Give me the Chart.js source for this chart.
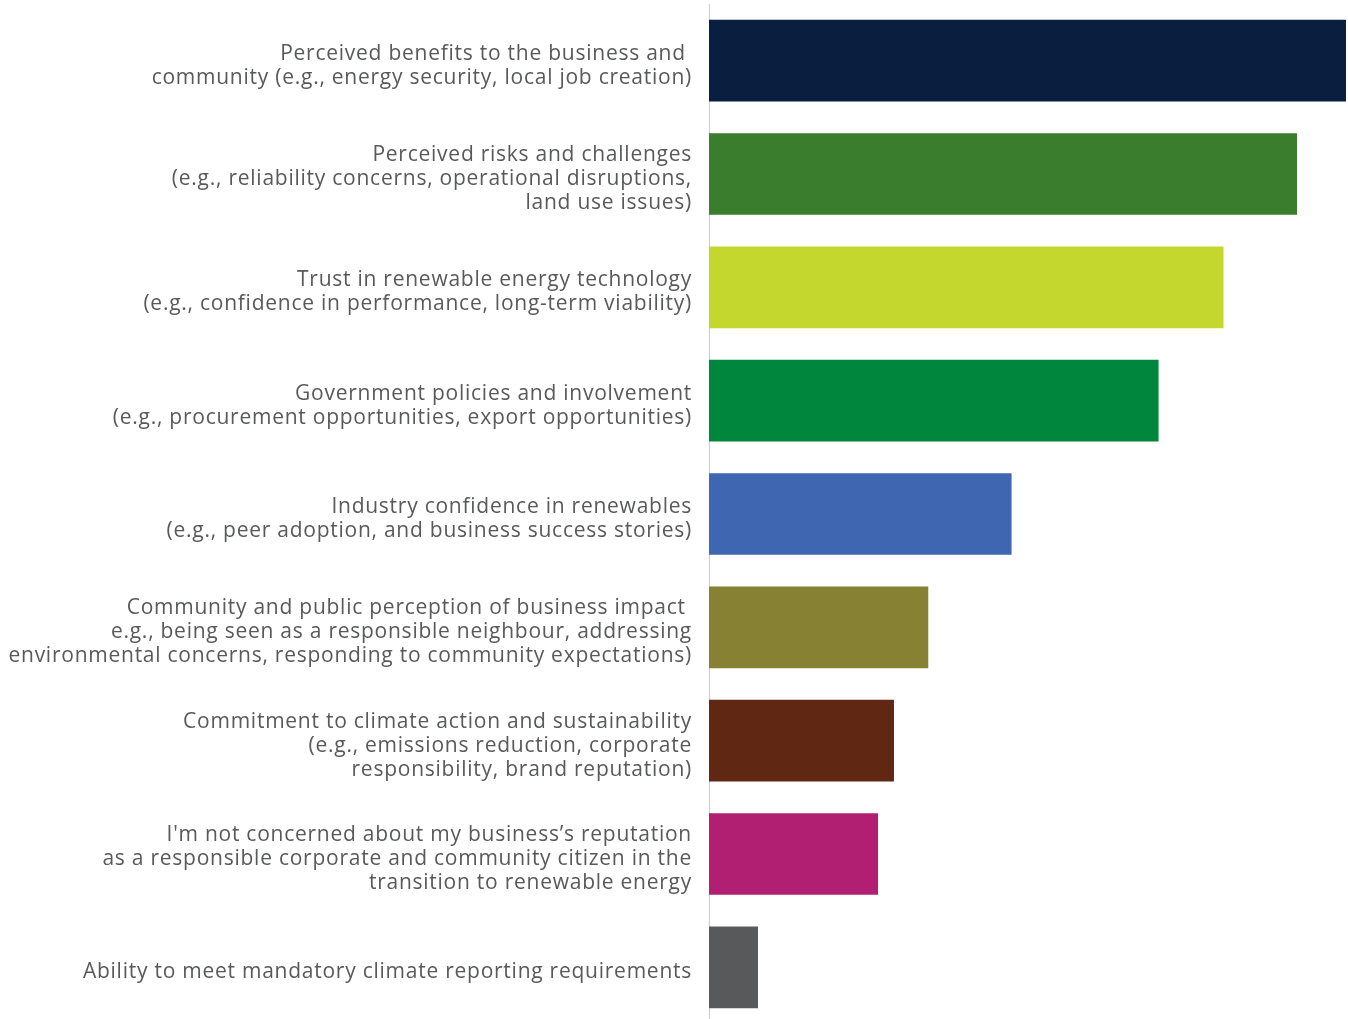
<!DOCTYPE html>
<html>
<head>
<meta charset="utf-8">
<title>Drivers of renewable energy decisions</title>
<script src="https://cdn.jsdelivr.net/npm/chart.js@4/dist/chart.umd.min.js"></script>
<style>
    html, body { margin: 0; padding: 0; background: #fff; overflow: hidden; }
    #wrap { position: relative; width: 1348px; height: 1024px; }
</style>
</head>
<body>
<div id="wrap"><canvas id="driversChart"></canvas></div>
<script>
// category labels, one array entry per line
const categories = [
    ['Perceived benefits to the business and ', 'community (e.g., energy security, local job creation)'],
    ['Perceived risks and challenges', '(e.g., reliability concerns, operational disruptions,', 'land use issues)'],
    ['Trust in renewable energy technology', '(e.g., confidence in performance, long-term viability)'],
    ['Government policies and involvement', '(e.g., procurement opportunities, export opportunities)'],
    ['Industry confidence in renewables', '(e.g., peer adoption, and business success stories)'],
    ['Community and public perception of business impact ', 'e.g., being seen as a responsible neighbour, addressing', 'environmental concerns, responding to community expectations)'],
    ['Commitment to climate action and sustainability', '(e.g., emissions reduction, corporate', 'responsibility, brand reputation)'],
    ['I\'m not concerned about my business\u2019s reputation', 'as a responsible corporate and community citizen in the', 'transition to renewable energy'],
    ['Ability to meet mandatory climate reporting requirements']
];

const shares = [52, 48, 42, 36.7, 24.7, 17.9, 15.1, 13.8, 4];

const barColors = ['#0a1f3f', '#3a7d2c', '#c3d72f', '#00873e', '#3f67b1', '#878233', '#602812', '#b11f73', '#58595b'];

// slightly looser text tracking for the category labels
const spacedText = {
    id: 'spacedText',
    beforeLayout: function(chart) { chart.ctx.letterSpacing = '0.75px'; },
    beforeDraw: function(chart) { chart.ctx.letterSpacing = '0.75px'; }
};

function renderChart(labels, data) {
    var ctx = document.getElementById('driversChart').getContext('2d');
    return new Chart(ctx, {
        type: 'bar',
        data: {
            labels: labels,
            datasets: [{
                data: data,
                backgroundColor: barColors,
                borderWidth: 0,
                barPercentage: 0.72,
                categoryPercentage: 1
            }]
        },
        plugins: [spacedText],
        options: {
            indexAxis: 'y',
            responsive: true,
            maintainAspectRatio: false,
            animation: false,
            layout: { padding: { top: 4, right: 2, bottom: 0, left: 0 } },
            plugins: {
                legend: { display: false },
                tooltip: { enabled: false }
            },
            scales: {
                x: {
                    display: false,
                    min: 0,
                    max: 52
                },
                y: {
                    grid: { display: false, drawTicks: false },
                    border: { display: true, color: '#cccccc', width: 1 },
                    ticks: {
                        color: '#58595b',
                        padding: 17,
                        labelOffset: 5,
                        font: { family: 'Open Sans', size: 21, weight: 500, lineHeight: 1.143 }
                    },
                    afterFit: function(scale) {
                        // fixed label column, and no extra room for the first/last label
                        scale.width = 709;
                        scale.paddingTop = 0;
                        scale.paddingBottom = 0;
                    }
                }
            }
        }
    });
}

renderChart(categories, shares);
</script>
</body>
</html>
